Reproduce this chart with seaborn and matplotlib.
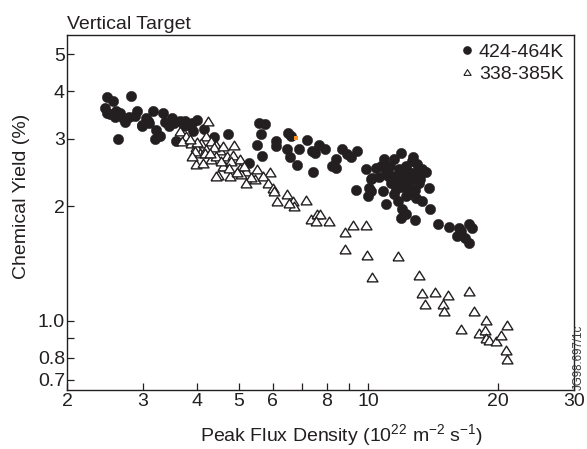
import numpy as np
import pandas as pd
import matplotlib
matplotlib.use("Agg")
import matplotlib.pyplot as plt
from matplotlib.ticker import NullLocator
from matplotlib.lines import Line2D
import seaborn as sns

# ---------------- data ----------------
hot_flux = [2.47, 2.56, 2.82, 2.45, 2.48, 2.58, 2.66, 2.73, 2.78, 2.91, 2.99, 3.05, 3.08, 3.17,
            3.21, 3.20, 3.28, 3.34, 3.38, 3.51, 3.55, 3.66, 3.58, 3.73, 3.84, 3.93, 4.01, 4.16,
            4.39, 4.72, 2.62, 5.30, 2.52, 2.98, 2.60, 2.70, 2.88, 3.10, 3.45, 3.75, 3.90,
            5.59, 5.77, 5.64, 5.51, 5.67, 6.12, 6.12, 6.50, 6.63, 6.46, 6.57, 6.92, 6.84, 7.19,
            7.46, 7.40, 7.70, 7.95, 7.52, 8.67, 8.94, 9.41, 9.12, 8.43, 8.25, 8.40, 9.89, 10.15,
            10.05, 9.36, 9.97,
            11.9, 12.7, 10.9, 10.4, 13.3, 11.6, 12.2, 11.2, 10.2, 12.7, 13.1, 13.8, 10.15, 10.8,
            11.0, 11.7, 12.5, 12.0, 12.2, 11.9, 13.3, 13.9, 12.8, 14.5, 15.4, 16.2, 17.1, 17.4,
            16.1, 16.8, 17.1, 16.4, 12.0, 11.4, 11.1, 11.8, 12.4, 11.5, 10.7, 13.2, 12.1, 11.6,
            11.2, 12.4, 13.0, 11.5, 10.6, 12.6, 12.9, 11.9, 12.3, 11.3, 12.8, 11.8, 12.6, 13.6,
            11.0, 12.2, 12.9]
hot_yield = [3.87, 3.78, 3.88, 3.61, 3.51, 3.43, 3.50, 3.33, 3.43, 3.54, 3.27, 3.41, 3.34, 3.54,
             3.16, 2.99, 3.05, 3.51, 3.32, 3.40, 3.30, 3.34, 2.96, 3.25, 3.26, 3.15, 3.36, 3.18,
             3.04, 3.09, 2.99, 2.60, 3.48, 3.25, 3.55, 3.40, 3.45, 3.30, 3.25, 3.35, 3.30,
             3.31, 3.28, 3.09, 2.90, 2.71, 2.96, 2.87, 3.10, 3.05, 2.82, 2.69, 2.82, 2.56, 2.98,
             2.46, 2.79, 2.89, 2.82, 2.76, 2.83, 2.74, 2.79, 2.69, 2.65, 2.55, 2.52, 2.50, 2.35,
             2.23, 2.20, 2.12,
             2.76, 2.69, 2.65, 2.52, 2.50, 2.40, 2.55, 2.55, 2.37, 2.35, 2.30, 2.23, 2.19, 2.19,
             2.02, 2.06, 2.15, 1.96, 1.90, 1.86, 2.06, 1.96, 1.84, 1.79, 1.76, 1.75, 1.79, 1.75,
             1.67, 1.65, 1.60, 1.72, 2.25, 2.30, 2.40, 2.50, 2.45, 2.15, 2.55, 2.35, 2.35, 2.21,
             2.41, 2.24, 2.57, 2.65, 2.38, 2.40, 2.45, 2.45, 2.30, 2.30, 2.20, 2.32, 2.62, 2.45,
             2.45, 2.12, 2.10]

cold_flux = [4.24, 3.66, 3.78, 3.69, 3.88, 4.21, 4.10, 4.32, 3.99, 4.06, 4.21, 4.44, 4.89, 4.52,
             3.99, 4.13, 4.32, 4.44, 4.69, 4.85, 4.65, 4.81, 5.03, 4.48, 4.78, 5.03, 5.21, 5.07,
             5.45, 5.51, 5.35, 5.90, 5.70, 5.86, 6.01, 6.03, 6.15, 6.48, 6.69, 6.74, 6.56, 7.16,
             7.37, 7.62, 7.72, 7.56, 8.12, 8.82, 9.23, 9.89, 8.82, 9.94, 11.7, 10.2, 13.1, 13.3,
             14.3, 15.3, 17.1, 13.5, 14.9, 15.0, 17.6, 18.7, 16.4, 18.1, 18.6, 18.7, 19.1, 19.8,
             20.3, 21.0, 20.9, 21.0, 3.97, 3.89, 4.17, 4.38, 4.61, 4.44, 5.21,
             4.00, 4.30, 4.55, 4.75, 5.15, 4.95, 3.85, 4.60]
cold_yield = [3.34, 3.15, 3.05, 2.96, 2.93, 3.05, 2.93, 2.96, 2.86, 2.76, 2.82, 2.90, 2.90, 2.81,
              2.57, 2.60, 2.65, 2.70, 2.70, 2.73, 2.55, 2.62, 2.65, 2.41, 2.40, 2.52, 2.47, 2.42,
              2.35, 2.50, 2.38, 2.45, 2.40, 2.30, 2.23, 2.19, 2.06, 2.15, 2.06, 2.00, 2.04, 2.07,
              1.85, 1.90, 1.91, 1.83, 1.83, 1.71, 1.78, 1.78, 1.54, 1.49, 1.48, 1.30, 1.32, 1.18,
              1.19, 1.17, 1.20, 1.105, 1.105, 1.06, 1.06, 1.006, 0.953, 0.928, 0.943, 0.90, 0.888,
              0.886, 0.919, 0.972, 0.839, 0.794, 2.79, 2.70, 2.76, 2.85, 2.55, 2.40, 2.30,
              2.95, 2.75, 2.62, 2.52, 2.55, 2.45, 3.00, 2.88]

mark_flux = [6.79]
mark_yield = [3.01]

series_labels = ["424-464K", "338-385K"]
x_ticks = [2, 3, 4, 5, 6, 7, 8, 9, 10, 20, 30]
x_ticklabels = ["2", "3", "4", "5", "6", "", "8", "", "10", "20", "30"]
y_ticks = [0.7, 0.8, 0.9, 1.0, 2, 3, 4, 5]
y_ticklabels = ["0.7", "0.8", "", "1.0", "2", "3", "4", "5"]

# ---------------- style ----------------
sns.set_style("white")
plt.rcParams["font.family"] = ["Liberation Sans", "DejaVu Sans"]
plt.rcParams["mathtext.fontset"] = "custom"
plt.rcParams["mathtext.rm"] = "Liberation Sans"
plt.rcParams["mathtext.it"] = "Liberation Sans:italic"
plt.rcParams["mathtext.default"] = "regular"

INK = "#231f20"
FS = 14

W, H = 587, 449
fig = plt.figure(figsize=(W / 100, H / 100), dpi=100)
ax = fig.add_axes([67 / W, 1 - 390 / H, (574 - 67) / W, (390 - 35) / H])

hot = pd.DataFrame({"flux": hot_flux, "yld": hot_yield})
cold = pd.DataFrame({"flux": cold_flux, "yld": cold_yield})
mark = pd.DataFrame({"flux": mark_flux, "yld": mark_yield})

tri = [(-1, -0.8), (1, -0.8), (0, 0.8), (-1, -0.8)]

sns.scatterplot(data=hot, x="flux", y="yld", ax=ax, marker="o", s=56,
                color=INK, edgecolor=INK, linewidth=0.3, zorder=2, legend=False)
sns.scatterplot(data=cold, x="flux", y="yld", ax=ax, marker=tri, s=62,
                facecolor="white", edgecolor=INK, linewidth=1.0, zorder=3, legend=False)
sns.scatterplot(data=mark, x="flux", y="yld", ax=ax, marker="s", s=9,
                color="#f7931e", linewidth=0, zorder=4, legend=False)

ax.set_xscale("log")
ax.set_yscale("log")
ax.set_xlim(2, 30)
ax.set_ylim(0.658, 5.62)
ax.set_xticks(x_ticks)
ax.set_xticklabels(x_ticklabels)
ax.set_yticks(y_ticks)
ax.set_yticklabels(y_ticklabels)
ax.xaxis.set_minor_locator(NullLocator())
ax.yaxis.set_minor_locator(NullLocator())
ax.tick_params(axis="both", which="major", direction="in", length=5.2, width=0.9,
               colors=INK, labelsize=FS, labelcolor=INK,
               bottom=True, left=True, top=False, right=False)
ax.tick_params(axis="x", pad=2.2)
ax.tick_params(axis="y", pad=1.5)
for sp in ax.spines.values():
    sp.set_visible(True)
    sp.set_color(INK)
    sp.set_linewidth(1.0)

ax.set_xlabel("Peak Flux Density (10$^{22}$ m$^{-2}$ s$^{-1}$)", fontsize=FS, color=INK)
ax.xaxis.label.set_verticalalignment("baseline")
ax.xaxis.set_label_coords(342 / W, 1 - 441 / H, transform=fig.transFigure)
ax.set_ylabel("Chemical Yield (%)", fontsize=FS, color=INK)
ax.yaxis.label.set_verticalalignment("center")
ax.yaxis.set_label_coords(22 / W, 1 - 196 / H, transform=fig.transFigure)

fig.text(67 / W, 1 - 29 / H, "Vertical Target", fontsize=FS, color=INK,
         ha="left", va="baseline")

handles = [
    Line2D([], [], linestyle="none", marker="o", markersize=5.2, markerfacecolor=INK,
           markeredgecolor=INK, label=series_labels[0]),
    Line2D([], [], linestyle="none", marker=tri, markersize=5.2, markerfacecolor="white",
           markeredgecolor=INK, markeredgewidth=0.8, label=series_labels[1]),
]
ax.legend(handles=handles, loc="upper right", frameon=False, fontsize=FS,
          bbox_to_anchor=(564 / W, 1 - 43 / H), bbox_transform=fig.transFigure,
          borderpad=0, borderaxespad=0,
          handlelength=0.8, handletextpad=0.22, labelspacing=0.25,
          labelcolor=INK)

fig.text(579 / W, 1 - 390 / H, "JG98.697/1c", rotation=90, fontsize=8.3,
         color="#3a3a3a", ha="center", va="bottom")

fig.savefig("out.png", dpi=100, facecolor="white")
